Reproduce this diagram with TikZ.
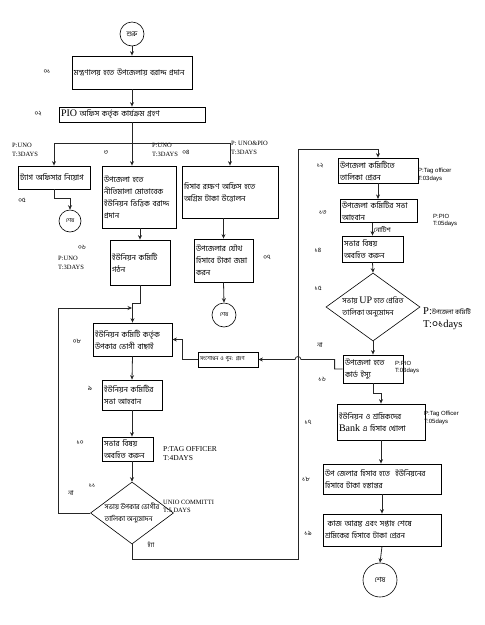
\documentclass[tikz,border=0pt]{standalone}
\usepackage{fontspec}
\setmainfont{Liberation Serif}
\setsansfont{Liberation Sans}
\newfontfamily\bn[Script=Bengali]{Hind Siliguri}
\usetikzlibrary{shapes.geometric, arrows.meta}

\begin{document}
\begin{tikzpicture}[
        x=1pt, y=-1pt,
        box/.style={rectangle, draw=black, line width=0.8pt, fill=white, align=left, inner sep=2pt, font=\bn\fontsize{7.8}{12}\selectfont},
        term/.style={circle, draw=black, line width=0.6pt, inner sep=0pt, font=\bn\fontsize{7}{8}\selectfont},
        decide/.style={diamond, draw=black, line width=0.6pt, inner sep=0pt},
        dtext/.style={align=left, inner sep=0pt, font=\bn\fontsize{7.5}{12}\selectfont},
        flow/.style={-{Stealth[length=4.5pt, width=4pt]}, line width=0.8pt, draw=black!85},
        wire/.style={line width=0.8pt, draw=black!85},
        num/.style={inner sep=0pt, font=\bn\fontsize{6.5}{7}\selectfont},
        note/.style={anchor=north west, align=left, inner sep=0pt, font=\fontsize{6.5}{9}\selectfont},
        snote/.style={anchor=north west, align=left, inner sep=0pt, font=\sffamily\fontsize{6}{7.5}\selectfont}
    ]
        \useasboundingbox (0,0) rectangle (485,625);

        \node[term, minimum size=24pt] (start) at (132,34) {শুরু};
        \node[box, text width=116pt, minimum height=33pt] (n01) at (132,72.5) {মন্ত্রণালয় হতে উপজেলায় বরাদ্দ প্রদান};
        \node[box, text width=142pt, minimum height=15pt, inner ysep=0pt] (n02) at (132,114.5) {{\rmfamily\fontsize{10}{10}\selectfont PIO} অফিস কর্তৃক কার্যক্রম গ্রহণ};
        \node[box, text width=68pt, minimum height=23pt] (n05) at (54,177.5) {ট্যাগ অফিসার নিয়োগ};
        \node[term, minimum size=22pt, font=\bn\fontsize{5.5}{6}\selectfont] (e1) at (70,221) {শেষ};
        \node[box, text width=70pt, minimum height=62pt] (n3) at (139,197) {উপজেলা হতে\\নীতিমালা মোতাবেক\\ইউনিয়ন ভিত্তিক বরাদ্দ\\প্রদান};
        \node[box, text width=92pt, minimum height=52pt] (n04) at (230,192) {হিসাব রক্ষণ অফিস হতে\\অগ্রিম টাকা উত্তোলন};
        \node[box, text width=55pt, minimum height=43pt] (n07) at (223.5,260.5) {উপজেলার যৌথ\\হিসাবে টাকা জমা\\করন};
        \node[term, minimum size=24pt, font=\bn\fontsize{5.5}{6}\selectfont] (e2) at (224,315) {শেষ};
        \node[box, text width=56pt, minimum height=45pt] (n06) at (140,262.5) {ইউনিয়ন কমিটি\\গঠন};
        \node[box, text width=75pt, minimum height=33pt] (n08) at (132.5,339.5) {ইউনিয়ন কমিটি কর্তৃক\\উপকার ভোগী বাছাই};
        \node[box, text width=56pt, minimum height=15pt, inner ysep=0pt, font=\bn\fontsize{5.5}{6}\selectfont] (fix) at (228,359.5) {সংশোধন ও পুন: গ্রহণ};
        \node[box, text width=56pt, minimum height=30pt] (n09) at (132,395) {ইউনিয়ন কমিটির\\সভা আহবান};
        \node[box, text width=47pt, minimum height=24pt] (n10) at (127.5,449) {সভার বিষয়\\অবহিত করুন};
        \node[decide, minimum width=83pt, minimum height=62pt] (d11) at (132,513) {};
        \node[dtext, font=\bn\fontsize{7}{12}\selectfont] (d11t) at (d11) {সভায় উপকার ভোগীর\\তালিকা অনুমোদন};

        \node[box, text width=76pt, minimum height=25pt] (n12) at (378,170.5) {উপজেলা কমিটিতে\\তালিকা প্রেরন};
        \node[box, text width=73pt, minimum height=22pt] (n13) at (378.5,211) {উপজেলা কমিটির সভা\\আহবান};
        \node[box, text width=57pt, minimum height=26pt] (n14) at (372.5,249) {সভার বিষয়\\অবহিত করুন};
        \node[decide, minimum width=94pt, minimum height=68pt] (d15) at (373,307) {};
        \node[dtext] (d15t) at (d15) {সভায় {\rmfamily\fontsize{10}{10}\selectfont UP} হতে প্রেরিত\\তালিকা অনুমোদন};
        \node[box, text width=56pt, minimum height=28pt] (n16) at (373,369) {উপজেলা হতে\\কার্ড ইস্যু};
        \node[box, text width=84pt, minimum height=36pt] (n17) at (381,422) {ইউনিয়ন ও শ্রমিকদের\\{\rmfamily\fontsize{10}{10}\selectfont Bank} এ হিসাব খোলা};
        \node[box, text width=114pt, minimum height=30pt] (n18) at (382,479) {উপ জেলার হিসাব হতে\ \ ইউনিয়নের\\হিসাবে টাকা হস্তান্তর};
        \node[box, text width=114pt, minimum height=32pt] (n19) at (382,530) {\ কাজ আরম্ভ এবং সপ্তাহ শেষে\\শ্রমিকের হিসাবে টাকা প্রেরন};
        \node[term, minimum size=34pt] (e3) at (380,580) {শেষ};

        \node[num] (s01) at (47,72) {০১};
        \node[num] (s02) at (38,114) {০২};
        \node[num] (s03) at (106,153) {৩};
        \node[num] (s04) at (186,152) {০৪};
        \node[num] (s05) at (22,200) {০৫};
        \node[num] (s06) at (82,247) {০৬};
        \node[num] (s07) at (267,257) {০৭};
        \node[num] (s08) at (77,341) {০৮};
        \node[num] (s09) at (90,388) {৯};
        \node[num] (s10) at (80,443) {১০};
        \node[num] (s11) at (92,486) {১১};
        \node[num] (s12) at (320,166) {১২};
        \node[num] (s13) at (323,213) {১৩};
        \node[num] (s14) at (318,250) {১৪};
        \node[num] (s15) at (318,288) {১৫};
        \node[num] (s16) at (322,379) {১৬};
        \node[num] (s17) at (308,422) {১৭};
        \node[num] (s18) at (306,479) {১৮};
        \node[num] (s19) at (308,533) {১৯};
        \node[num] (no1) at (71,493) {না};
        \node[num] (no2) at (320,345) {না};
        \node[num] (yes) at (151,545) {হ্যাঁ};

        \node[note] (t05) at (12,143) {P:UNO\\T:3DAYS};
        \node[note] (t03) at (152,143) {P:UNO\\T:3DAYS};
        \node[note] (t04) at (231,141) {P: UNO\&PIO\\T:3DAYS};
        \node[note] (t06) at (58,256) {P:UNO\\T:3DAYS};
        \node[note, font=\fontsize{7.5}{9}\selectfont] (t10) at (163,446) {P:TAG OFFICER\\T:4DAYS};
        \node[note, font=\fontsize{6.5}{8}\selectfont] (t11) at (163,500) {UNIO COMMITTI\\T:5 DAYS};
        \node[snote] (t12) at (418,168) {P:Tag officer\\T:03days};
        \node[snote] (t13) at (433,214) {P:PIO\\T:05days};
        \node[snote] (t16) at (395,361) {P:PIO\\T:03days};
        \node[snote] (t17) at (424,411) {P:Tag Officer\\T:05days};
        \node[note, font=\fontsize{10.5}{13}\selectfont] (t15) at (423,307) {P:{\bn\fontsize{6.5}{6.5}\selectfont উপজেলা কমিটি}\\T:{\bn ০১}days};

        \coordinate (split) at (132,143);
        \coordinate (join) at (132,308);
        \coordinate (rtop) at (298,149);
        \coordinate (hop) at (rtop |- fix.east);

        \draw[flow] (start.south) -- (n01.north);
        \draw[flow] (n01.south) -- (n02.north);
        \draw[wire] (n02.south) -- (split);
        \draw[flow] (split) -| (n05.north);
        \draw[flow] (split) -- (split |- n3.north);
        \draw[flow] (split) -| (n04.north);
        \draw[flow] (n05.south) -- ++(0,9) -| (e1.north);
        \draw[flow] (n07.north |- n04.south) -- (n07.north);
        \draw[flow] (n07.south) -- (e2.north);
        \draw[flow] (n06.north |- n3.south) -- (n06.north);
        \draw[flow] (n06.south) -- ++(0,18) -| (n08.north);
        \draw[flow] (d11.west) -- ++(-32,0) |- (join);
        \draw[flow] (n08.south) -- (n09.north);
        \draw[flow] (n09.south) -- (n09.south |- n10.north);
        \draw[flow] (d11.north |- n10.south) -- (d11.north);
        \draw[flow] (fix.west) -- ++(-15,0) |- (n08.east);
        \draw[flow] (d11.south) -- ++(0,15) -| (rtop) -| (n12.north);
        \draw[flow] (n12.south) -- (n12.south |- n13.north);
        \draw[flow] (n14.north |- n13.south) -- (n14.north) node[midway, right=1pt, num] {নোটিশ};
        \draw[flow] (n14.south) -- (d15.north);
        \draw[flow] (d15.south) -- (n16.north);
        \draw[flow] (n16.south) -- ++(0,10) -| (n17.north);
        \draw[flow] (n16.west) -- ++(-8,0) |- ([xshift=3pt]hop) arc[start angle=0, end angle=180, radius=3pt] -- (fix.east);
        \draw[flow] (n17.south) -- (n17.south |- n18.north);
        \draw[flow] (n18.south) -- (n19.north);
        \draw[flow] (n19.south) -- (e3.north);
    \end{tikzpicture}
\end{document}
